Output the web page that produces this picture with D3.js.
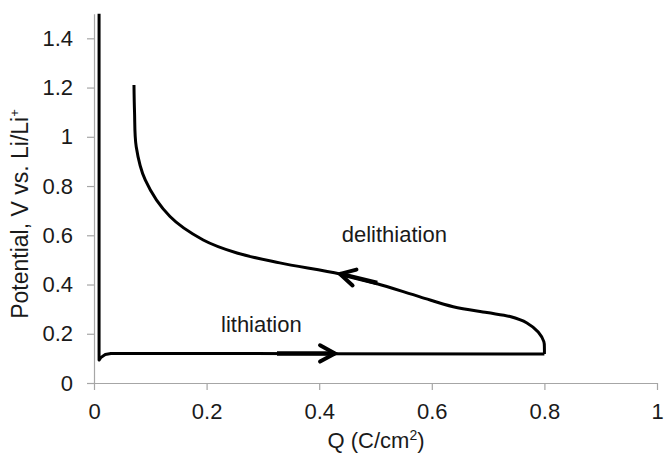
<!DOCTYPE html>
<html>
<head>
<meta charset="utf-8">
<script src="https://cdn.jsdelivr.net/npm/d3@7"></script>
<style>
  body { margin:0; background:#fff; }
  text { font-family: "Liberation Sans", Arial, sans-serif; fill:#1a1a1a; }
</style>
</head>
<body>
<div id="chart"></div>
<script>
//DATA
var xTicks = [0, 0.2, 0.4, 0.6, 0.8, 1];
var yTicks = [0, 0.2, 0.4, 0.6, 0.8, 1, 1.2, 1.4];

// lithiation: Q (C/cm2), V vs Li/Li+
var lithQ = [0.009, 0.009, 0.009, 0.012, 0.02, 0.03, 0.1, 0.4, 0.8];
var lithV = [1.5, 0.5, 0.093, 0.103, 0.116, 0.12, 0.12, 0.119, 0.118];

// delithiation, starts where lithiation ends
var delithQ = [0.8, 0.8, 0.799, 0.789, 0.769, 0.739, 0.698, 0.638, 0.579, 0.5, 0.437, 0.33, 0.254, 0.194, 0.135, 0.091, 0.075, 0.072, 0.071];
var delithV = [0.118, 0.14, 0.168, 0.207, 0.244, 0.27, 0.286, 0.31, 0.35, 0.405, 0.443, 0.488, 0.528, 0.581, 0.676, 0.825, 0.96, 1.1, 1.21];

// direction arrows [from, to]
var lithArrow = [[0.325, 0.12], [0.428, 0.12]];
var delithArrow = [[0.503, 0.406], [0.437, 0.443]];

// annotations
var labels = [
  {text: "lithiation", q: 0.2256, v: 0.207},
  {text: "delithiation", q: 0.44, v: 0.573}
];

var width = 665;
var height = 453;
var margin = {left: 94, right: 8, top: 13.7, bottom: 70};

var svg = d3.select("#chart").append("svg")
  .attr("width", width)
  .attr("height", height);

var x = d3.scaleLinear().domain([0, 1]).range([margin.left, width - margin.right]);
var y = d3.scaleLinear().domain([0, 1.5]).range([height - margin.bottom, margin.top]);

var fmt = function(d){ return String(+d.toFixed(1)); };

//---AXES
var gx = svg.append("g")
  .attr("transform", "translate(0," + y(0) + ")")
  .call(d3.axisBottom(x).tickValues(xTicks).tickFormat(fmt).tickSize(7).tickPadding(13).tickSizeOuter(0));

var gy = svg.append("g")
  .attr("transform", "translate(" + x(0) + ",0)")
  .call(d3.axisLeft(y).tickValues(yTicks).tickFormat(fmt).tickSize(7).tickPadding(14).tickSizeOuter(0));

[gx, gy].forEach(function(g){
  g.selectAll("path, line").attr("stroke", "#a6a6a6").attr("stroke-width", 1.2);
  g.selectAll("text").attr("font-size", 22).attr("fill", "#1a1a1a")
    .style("font-family", "Liberation Sans, Arial, sans-serif");
});

//---TITLES
var xt = svg.append("text")
  .attr("x", 376)
  .attr("y", 448)
  .attr("text-anchor", "middle")
  .attr("font-size", 22);
xt.append("tspan").text("Q (C/cm");
xt.append("tspan").attr("font-size", 14).attr("dy", -8).text("2");
xt.append("tspan").attr("dy", 8).text(")");

var yt = svg.append("text")
  .attr("transform", "translate(28,214) rotate(-90)")
  .attr("text-anchor", "middle")
  .attr("font-size", 23);
yt.append("tspan").text("Potential, V vs. Li/Li");
yt.append("tspan").attr("font-size", 13).attr("dy", -9).text("+");

//---CURVES
var line = d3.line().x(function(d){ return x(d[0]); }).y(function(d){ return y(d[1]); });
var smooth = d3.line().x(function(d){ return x(d[0]); }).y(function(d){ return y(d[1]); })
  .curve(d3.curveCatmullRom.alpha(0.5));

var lith = d3.zip(lithQ, lithV);
var delith = d3.zip(delithQ, delithV);

svg.append("path").datum(lith)
  .attr("d", line)
  .attr("fill", "none").attr("stroke", "#000").attr("stroke-width", 3)
  .attr("stroke-linejoin", "round");

svg.append("path").datum(delith)
  .attr("d", smooth)
  .attr("fill", "none").attr("stroke", "#000").attr("stroke-width", 3)
  .attr("stroke-linejoin", "round");

//---ARROWS
function drawArrow(a){
  var x0 = x(a[0][0]), y0 = y(a[0][1]), x1 = x(a[1][0]), y1 = y(a[1][1]);
  var ang = Math.atan2(y1 - y0, x1 - x0);
  var len = 17, spread = 0.5;
  svg.append("line")
    .attr("x1", x0).attr("y1", y0).attr("x2", x1).attr("y2", y1)
    .attr("stroke", "#000").attr("stroke-width", 4.5);
  var p = [
    [x1 - len * Math.cos(ang - spread), y1 - len * Math.sin(ang - spread)],
    [x1, y1],
    [x1 - len * Math.cos(ang + spread), y1 - len * Math.sin(ang + spread)]
  ];
  svg.append("path").attr("d", d3.line()(p))
    .attr("fill", "none").attr("stroke", "#000").attr("stroke-width", 4)
    .attr("stroke-linejoin", "miter").attr("stroke-linecap", "round");
}
drawArrow(lithArrow);
drawArrow(delithArrow);

//---LABELS
svg.selectAll(".lbl").data(labels).enter().append("text")
  .attr("class", "lbl")
  .attr("x", function(d){ return x(d.q); })
  .attr("y", function(d){ return y(d.v); })
  .attr("font-size", 22)
  .text(function(d){ return d.text; });
</script>
</body>
</html>
